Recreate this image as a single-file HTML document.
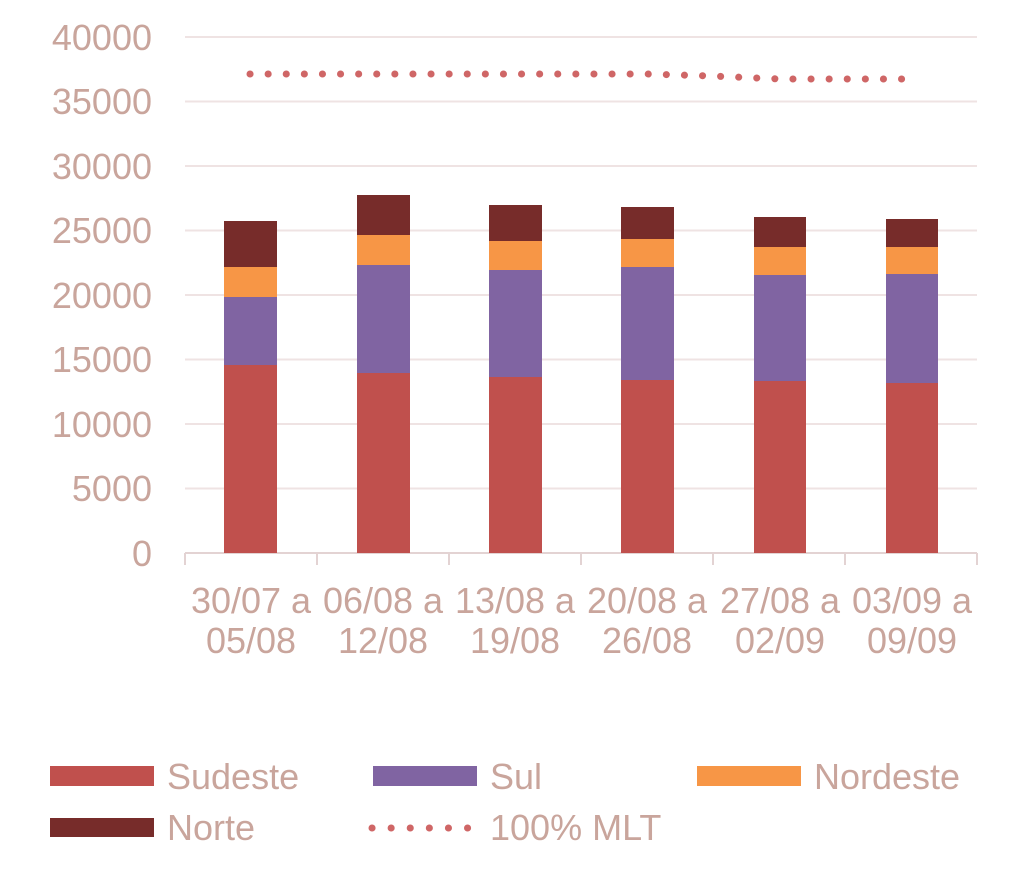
<!DOCTYPE html>
<html><head><meta charset="utf-8"><style>
body{margin:0;background:#fff;}
svg text{font-family:"Liberation Sans",sans-serif;fill:#c9a59c;font-size:36px;}
</style></head><body>
<svg width="1024" height="877" xmlns="http://www.w3.org/2000/svg">
<g stroke="#efe3e3" stroke-width="2">
<line x1="185" y1="37" x2="977" y2="37"/>
<line x1="185" y1="101.5" x2="977" y2="101.5"/>
<line x1="185" y1="166" x2="977" y2="166"/>
<line x1="185" y1="230.5" x2="977" y2="230.5"/>
<line x1="185" y1="295" x2="977" y2="295"/>
<line x1="185" y1="359.5" x2="977" y2="359.5"/>
<line x1="185" y1="424" x2="977" y2="424"/>
<line x1="185" y1="488.5" x2="977" y2="488.5"/>
</g>
<g stroke="#e3d3d3" stroke-width="2">
<line x1="185" y1="553" x2="977" y2="553"/>
<line x1="185" y1="553" x2="185" y2="565"/><line x1="317" y1="553" x2="317" y2="565"/>
<line x1="449" y1="553" x2="449" y2="565"/><line x1="581" y1="553" x2="581" y2="565"/>
<line x1="713" y1="553" x2="713" y2="565"/><line x1="845" y1="553" x2="845" y2="565"/>
<line x1="977" y1="553" x2="977" y2="565"/>
</g>
<g text-anchor="end">
<text x="152" y="50">40000</text><text x="152" y="114">35000</text><text x="152" y="179">30000</text>
<text x="152" y="243">25000</text><text x="152" y="308">20000</text><text x="152" y="372">15000</text>
<text x="152" y="437">10000</text><text x="152" y="501">5000</text><text x="152" y="566">0</text>
</g>
<g>
<rect x="224" y="365" width="53" height="188" fill="#c0504d"/><rect x="224" y="297" width="53" height="68" fill="#8064a2"/><rect x="224" y="267" width="53" height="30" fill="#f79646"/><rect x="224" y="221" width="53" height="46" fill="#772c2a"/>
<rect x="357" y="373" width="53" height="180" fill="#c0504d"/><rect x="357" y="265" width="53" height="108" fill="#8064a2"/><rect x="357" y="235" width="53" height="30" fill="#f79646"/><rect x="357" y="195" width="53" height="40" fill="#772c2a"/>
<rect x="489" y="377" width="53" height="176" fill="#c0504d"/><rect x="489" y="270" width="53" height="107" fill="#8064a2"/><rect x="489" y="241" width="53" height="29" fill="#f79646"/><rect x="489" y="205" width="53" height="36" fill="#772c2a"/>
<rect x="621" y="380" width="53" height="173" fill="#c0504d"/><rect x="621" y="267" width="53" height="113" fill="#8064a2"/><rect x="621" y="239" width="53" height="28" fill="#f79646"/><rect x="621" y="207" width="53" height="32" fill="#772c2a"/>
<rect x="754" y="381" width="52" height="172" fill="#c0504d"/><rect x="754" y="275" width="52" height="106" fill="#8064a2"/><rect x="754" y="247" width="52" height="28" fill="#f79646"/><rect x="754" y="217" width="52" height="30" fill="#772c2a"/>
<rect x="886" y="383" width="52" height="170" fill="#c0504d"/><rect x="886" y="274" width="52" height="109" fill="#8064a2"/><rect x="886" y="247" width="52" height="27" fill="#f79646"/><rect x="886" y="219" width="52" height="28" fill="#772c2a"/>
</g>
<polyline points="250,74 383,74 515,74 647,74 712,76 780,79 908,79" fill="none" stroke="#cf6666" stroke-width="7" stroke-linecap="round" stroke-dasharray="0.1 18"/>
<g text-anchor="middle">
<text x="251" y="613">30/07 a</text><text x="251" y="653">05/08</text>
<text x="383" y="613">06/08 a</text><text x="383" y="653">12/08</text>
<text x="515" y="613">13/08 a</text><text x="515" y="653">19/08</text>
<text x="647" y="613">20/08 a</text><text x="647" y="653">26/08</text>
<text x="780" y="613">27/08 a</text><text x="780" y="653">02/09</text>
<text x="912" y="613">03/09 a</text><text x="912" y="653">09/09</text>
</g>
<rect x="50" y="766" width="104" height="20" fill="#c0504d"/><text x="167" y="789">Sudeste</text>
<rect x="373" y="766" width="104" height="20" fill="#8064a2"/><text x="490" y="789">Sul</text>
<rect x="697" y="766" width="104" height="20" fill="#f79646"/><text x="814" y="789">Nordeste</text>
<rect x="50" y="818" width="104" height="19" fill="#772c2a"/><text x="167" y="840">Norte</text>
<line x1="372" y1="828" x2="468" y2="828" stroke="#cf6666" stroke-width="7" stroke-linecap="round" stroke-dasharray="0.1 19"/>
<text x="490" y="840">100% MLT</text>
</svg>
</body></html>
